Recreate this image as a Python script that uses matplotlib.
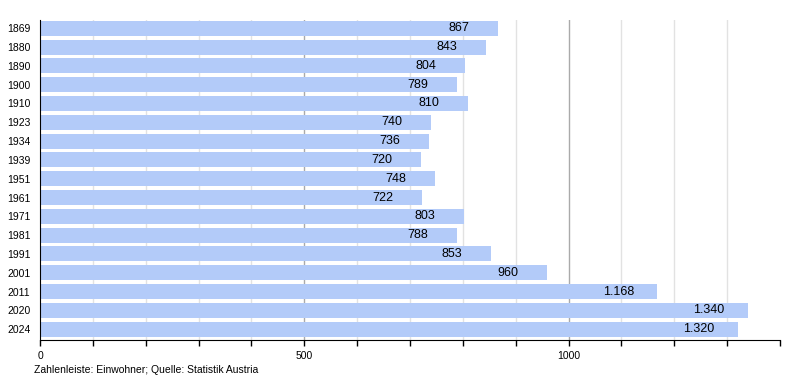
import matplotlib.pyplot as plt
from matplotlib.ticker import MultipleLocator

plt.rcParams['font.family'] = ['Liberation Sans', 'DejaVu Sans']

years = ['1869', '1880', '1890', '1900', '1910', '1923', '1934', '1939', '1951',
         '1961', '1971', '1981', '1991', '2001', '2011', '2020', '2024']
einwohner = [867, 843, 804, 789, 810, 740, 736, 720, 748, 722, 803, 788, 853,
             960, 1168, 1340, 1320]

fig = plt.figure(figsize=(8, 3.8), dpi=100)
ax = fig.add_axes([0.05, 0.105, 0.925, 0.842])

pos = list(range(len(years)))
ax.barh(pos, einwohner, height=0.8, color='#b3cbf9', zorder=2)

for p, v in zip(pos, einwohner):
    lbl = f'{v:,}'.replace(',', '.')
    ax.text(v - 74, p, lbl, ha='center', va='center', fontsize=9, zorder=3)

ax.set_xlim(0, 1400)
ax.set_ylim(16.58, -0.43)
ax.set_yticks(pos)
ax.set_yticklabels(years, fontsize=7.5)
ax.tick_params(axis='y', length=0, pad=7)

ax.xaxis.set_major_locator(MultipleLocator(500))
ax.xaxis.set_minor_locator(MultipleLocator(100))
ax.tick_params(axis='x', which='both', length=4, width=1, direction='out', labelsize=7.5)
for x in range(100, 1400, 100):
    if x % 500 == 0:
        ax.axvline(x, color='#aaaaaa', lw=1, zorder=1)
    else:
        ax.axvline(x, color='#e2e2e2', lw=1, zorder=1)

for s in ['top', 'right']:
    ax.spines[s].set_visible(False)
ax.spines['left'].set_color('black')
ax.spines['bottom'].set_color('black')

fig.text(0.043, 0.018, 'Zahlenleiste: Einwohner; Quelle: Statistik Austria', fontsize=7.5)

fig.savefig('out.png', dpi=100)
